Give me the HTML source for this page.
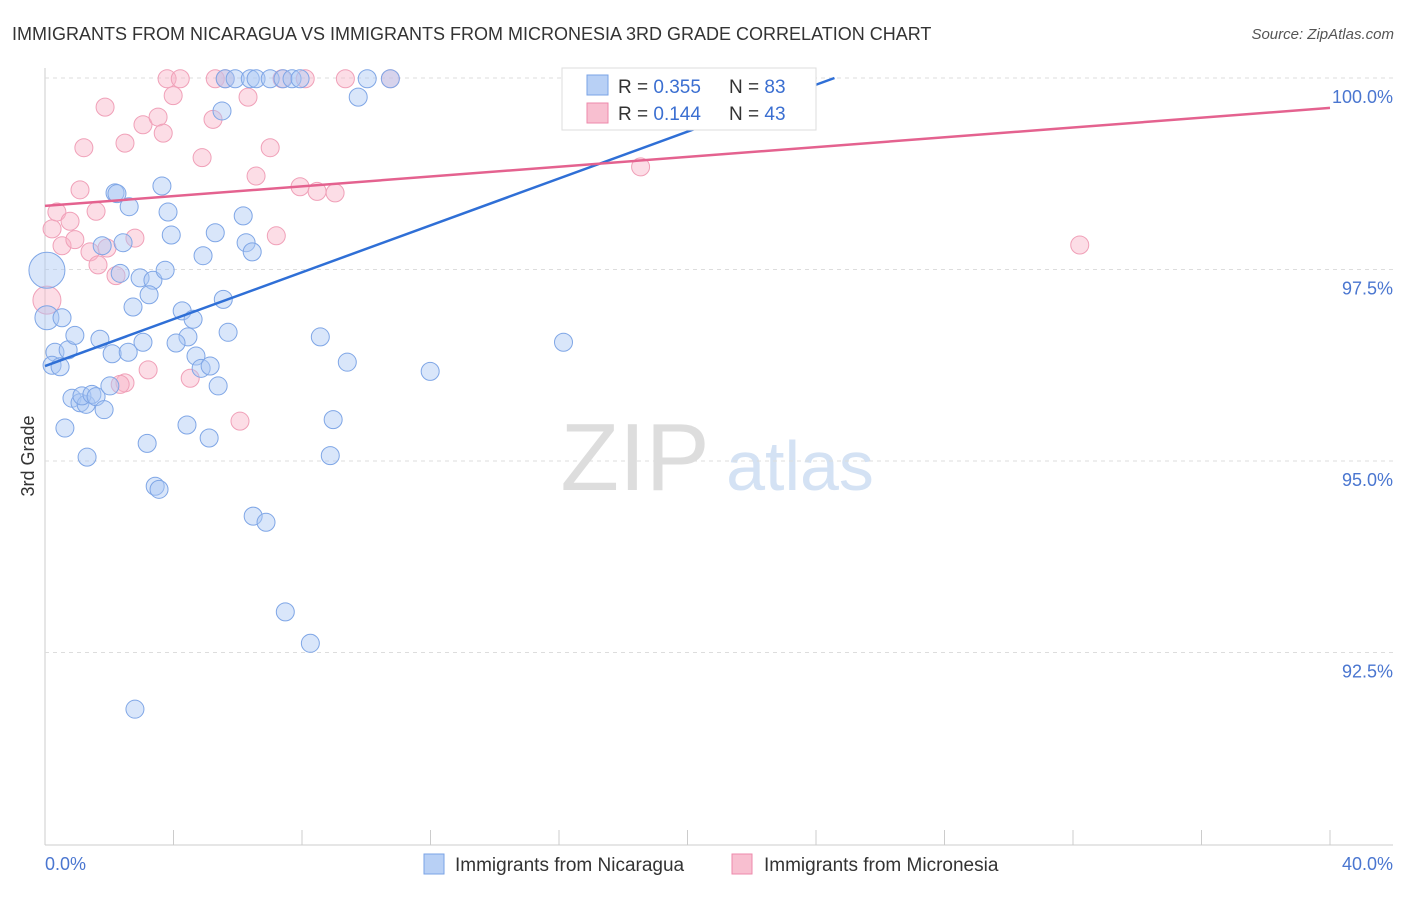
<!DOCTYPE html>
<html><head><meta charset="utf-8"><style>
body{margin:0;background:#fff;font-family:"Liberation Sans",sans-serif;}
svg text{font-family:"Liberation Sans",sans-serif;}
</style></head><body>
<svg id="c" width="1406" height="892">
<text x="12" y="40" font-size="18" fill="#333">IMMIGRANTS FROM NICARAGUA VS IMMIGRANTS FROM MICRONESIA 3RD GRADE CORRELATION CHART</text>
<text x="1394" y="39" font-size="15" fill="#555" text-anchor="end" font-style="italic">Source: ZipAtlas.com</text>
<text x="34" y="456" font-size="18" fill="#333" text-anchor="middle" transform="rotate(-90 34 456)">3rd Grade</text>
<g><text x="635" y="490" font-size="96" fill="#ddd" font-family="Liberation Serif" text-anchor="middle">ZIP</text><text x="800" y="490" font-size="70" fill="#d4e2f4" text-anchor="middle">atlas</text></g>
<g id="grid"></g><g id="pts"></g><g id="lines"></g>
<g>
<rect x="562" y="68" width="254" height="62" fill="#fff" stroke="#ddd"/>
<rect x="587" y="75" width="21" height="20" fill="#b8d0f5" stroke="#7aa3e6"/>
<rect x="587" y="103" width="21" height="20" fill="#f8bfd0" stroke="#ee8aab"/>
<text x="618" y="93" font-size="19" fill="#333">R = <tspan fill="#3b6fd1">0.355</tspan></text>
<text x="729" y="93" font-size="19" fill="#333">N = <tspan fill="#3b6fd1">83</tspan></text>
<text x="618" y="120" font-size="19" fill="#333">R = <tspan fill="#3b6fd1"> 0.144</tspan></text>
<text x="729" y="120" font-size="19" fill="#333">N = <tspan fill="#3b6fd1">43</tspan></text>
</g>
<g>
<rect x="424" y="854" width="20" height="20" fill="#b8d0f5" stroke="#7aa3e6"/>
<text x="455" y="871" font-size="19" fill="#333">Immigrants from Nicaragua</text>
<rect x="732" y="854" width="20" height="20" fill="#f8bfd0" stroke="#ee8aab"/>
<text x="764" y="871" font-size="19" fill="#333">Immigrants from Micronesia</text>
</g>
</svg>
<script>
const yTicks=[100,97.5,95,92.5];
const yTickLabels=["100.0%","97.5%","95.0%","92.5%"];
const xTicks=[0,4,8,12,16,20,24,28,32,36,40];
const blueX=[0.06,0.06,0.53,0.31,0.72,0.22,0.47,0.93,1.71,2.09,2.59,3.05,0.84,1.09,1.28,1.15,1.46,1.59,1.84,2.02,0.62,1.31,2.18,2.24,2.62,1.78,2.43,2.34,2.96,3.36,3.24,2.74,3.64,3.83,3.93,3.74,5.30,4.92,6.17,6.26,6.45,5.55,4.27,4.61,4.45,4.08,5.70,4.70,4.86,5.14,5.39,3.18,4.42,5.11,3.43,3.55,6.48,6.88,7.48,8.26,2.80,8.57,9.41,8.97,8.88,11.99,16.14,9.75,5.51,5.61,5.92,6.39,6.57,7.01,7.41,7.69,7.94,10.03,10.75,16.92,19.28,20.72];
const blueY=[97.49,96.87,96.87,96.42,96.45,96.25,96.23,96.64,96.59,96.40,96.42,96.55,95.82,95.76,95.74,95.85,95.87,95.84,95.67,95.98,95.43,95.05,98.50,98.49,98.32,97.81,97.85,97.45,97.39,97.36,97.17,97.01,98.59,98.25,97.95,97.49,97.98,97.68,98.20,97.85,97.73,97.11,96.96,96.85,96.62,96.54,96.68,96.37,96.21,96.24,95.98,95.23,95.47,95.30,94.67,94.63,94.28,94.20,93.03,92.62,91.76,96.62,96.29,95.54,95.07,96.17,96.55,99.75,99.57,99.99,99.99,99.99,99.99,99.99,99.99,99.99,99.99,99.99,99.99,99.56,99.99,99.99];
const blueR=[18,12];
const pinkX=[0.06,0.22,0.37,0.78,0.53,0.93,1.59,1.09,1.40,1.65,1.93,2.21,2.80,1.21,1.87,2.49,3.05,3.52,3.68,3.99,3.80,4.21,5.30,5.61,6.32,5.23,4.89,6.57,7.01,7.20,7.94,8.47,9.03,9.35,8.10,10.75,7.38,3.21,2.49,2.34,4.52,6.07,18.54,32.21];
const pinkY=[97.10,98.03,98.25,98.13,97.81,97.89,98.26,98.54,97.73,97.56,97.78,97.42,97.91,99.09,99.62,99.15,99.39,99.49,99.28,99.77,99.99,99.99,99.99,99.99,99.75,99.46,98.96,98.72,99.09,97.94,98.58,98.52,98.50,99.99,99.99,99.99,99.99,96.19,96.02,96.00,96.08,95.52,98.84,97.82];
const pinkR=[14];
const blueTrend=[96.24,0.153];
const pinkTrend=[98.33,0.032];
const X0=45,X1=1330,Ytop=78;
const sx=v=>X0+(v/40)*(X1-X0);
const sy=v=>Ytop+(100-v)*76.6;
const NS="http://www.w3.org/2000/svg";
function mk(t,a,p){const e=document.createElementNS(NS,t);for(const k in a)e.setAttribute(k,a[k]);p.appendChild(e);return e;}
const grid=document.getElementById('grid');
mk('line',{x1:45,x2:45,y1:68,y2:845,stroke:'#ccc'},grid);
mk('line',{x1:45,x2:1393,y1:845,y2:845,stroke:'#ccc'},grid);
yTicks.forEach((t,i)=>{const l=mk('line',{x1:45,x2:1393,y1:sy(t),y2:sy(t),stroke:'#ddd','stroke-dasharray':'4,4'},grid);


const tx=mk('text',{x:1393,y:sy(t)+25,'font-size':18,fill:'#4a76d0','text-anchor':'end'},grid);tx.textContent=yTickLabels[i];

});
xTicks.forEach(t=>{const l=mk('line',{x1:sx(t),x2:sx(t),y1:830,y2:845,stroke:'#ccc'},grid);

});
let a=mk('text',{x:45,y:870,'font-size':18,fill:'#4a76d0'},grid);a.textContent='0.0%';


a=mk('text',{x:1393,y:870,'font-size':18,fill:'#4a76d0','text-anchor':'end'},grid);a.textContent='40.0%';


const pts=document.getElementById('pts');
pinkX.forEach((x,i)=>{const c=mk('circle',{cx:sx(x),cy:sy(pinkY[i]),r:pinkR[i]||9,fill:'rgba(248,180,200,0.45)',stroke:'#f0a0b8','stroke-width':1},pts);

});
blueX.forEach((x,i)=>{const c=mk('circle',{cx:sx(x),cy:sy(blueY[i]),r:blueR[i]||9,fill:'rgba(170,200,245,0.45)',stroke:'#7fa6e6','stroke-width':1},pts);

});
const lines=document.getElementById('lines');
const bxEnd=(100-blueTrend[0])/blueTrend[1];
let L=mk('line',{x1:sx(0),y1:sy(blueTrend[0]),x2:sx(bxEnd),y2:sy(100),stroke:'#2f6fd6','stroke-width':2.5},lines);


L=mk('line',{x1:sx(0),y1:sy(pinkTrend[0]),x2:sx(40),y2:sy(pinkTrend[0]+40*pinkTrend[1]),stroke:'#e4628f','stroke-width':2.5},lines);


</script>
</body></html>
